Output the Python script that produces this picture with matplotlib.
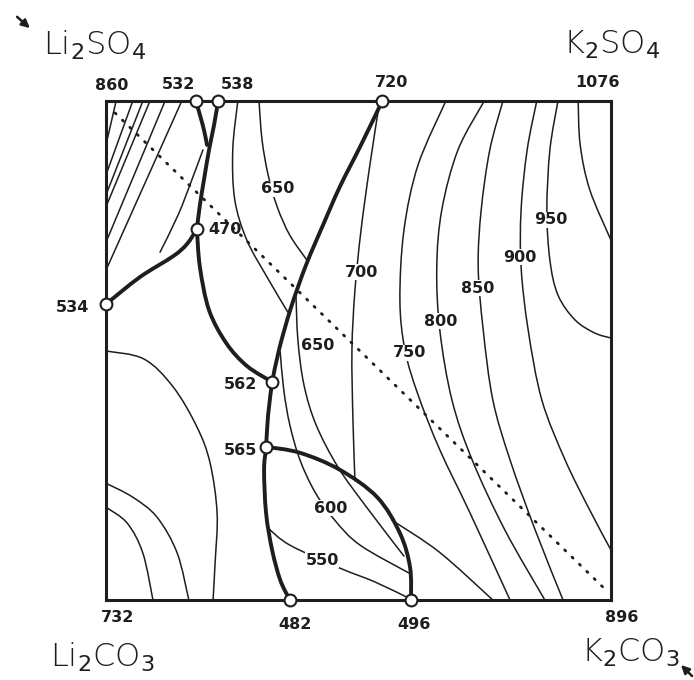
import numpy as np
import matplotlib
matplotlib.use("Agg")
import matplotlib.pyplot as plt
from matplotlib.path import Path
from matplotlib.patches import PathPatch

# Reciprocal system Li2SO4 - K2SO4 - Li2CO3 - K2CO3
# x = mol % K+, y = mol % SO4(2-)

# invariant / binary points
pt_x = [17.8, 22.2, 54.7, 18.0, 0.0, 32.9, 31.7, 36.4, 60.4]
pt_y = [100, 100, 100, 74.3, 59.3, 43.7, 30.7, 0, 0]

# boundary curves (thick)
b1_x = [17.8, 18.6, 19.4, 20.0]
b1_y = [100, 97.2, 94.2, 91.2]
b2_x = [22.2, 21.4, 20.4, 19.4, 18.6, 18.0]
b2_y = [100, 95.2, 90.2, 84.2, 79.2, 74.3]
b3_x = [0, 6.7, 13.3, 16.0, 18.0]
b3_y = [59.3, 64.7, 68.9, 71.3, 74.3]
b4_x = [18.0, 18.6, 20.4, 23.8, 27.9, 32.9]
b4_y = [74.3, 66.7, 58.1, 51.5, 46.9, 43.7]
b5_x = [54.7, 50.5, 46.3, 43.0, 39.6, 36.6, 34.3, 32.9]
b5_y = [100, 91.2, 82.8, 75.2, 67.1, 58.5, 50.3, 43.7]
b6_x = [32.9, 32.1, 31.7, 31.3, 31.7, 32.9, 34.5, 36.4]
b6_y = [43.7, 37.1, 30.7, 26.1, 17.4, 10.0, 4.0, 0]
b7_x = [31.7, 38.4, 46.3, 53.7, 58.2, 60.2, 60.4]
b7_y = [30.7, 29.5, 26.1, 20.6, 13.4, 6.6, 0]

# isotherms (thin)
t1_x = [10.7, 14.3, 17.0, 19.2]
t1_y = [69.7, 77.2, 84.2, 90.2]
ca_x = [26.1, 25.1, 25.5, 27.9, 31.9, 36.0]
ca_y = [100, 90.2, 80.2, 72.1, 64.7, 57.7]
c650a_x = [30.3, 30.9, 32.1, 33.9, 36.4, 39.8]
c650a_y = [100, 92.2, 85.2, 78.8, 73.1, 68.1]
c700_x = [54.2, 52.2, 50.5, 49.3, 48.7, 48.9, 49.3]
c700_y = [100, 86.8, 74.1, 62.1, 50.1, 36.1, 23.9]
c650b_x = [37.6, 38.0, 39.2, 41.6, 45.9, 51.3, 59.0]
c650b_y = [61.7, 52.1, 43.1, 35.1, 26.7, 19.0, 8.8]
c600_x = [34.5, 35.2, 36.4, 38.4, 41.4, 45.3, 50.3, 60.0]
c600_y = [49.7, 42.1, 35.1, 28.1, 21.6, 16.0, 11.0, 5.4]
c550_x = [32.1, 36.4, 46.3, 53.3, 60.3]
c550_y = [14.4, 11.0, 6.4, 3.6, 0.2]
ck_x = [56.6, 66.0, 76.6]
ck_y = [16.0, 9.6, 0]
c750_x = [67.3, 61.8, 59.0, 58.2, 59.2, 61.8, 66.1, 72.1, 80.0]
c750_y = [100, 87.2, 74.1, 60.1, 50.1, 41.1, 30.1, 17.4, 0]
c800_x = [74.9, 69.7, 66.5, 65.5, 66.1, 68.5, 72.5, 79.0, 86.9]
c800_y = [100, 90.2, 78.2, 66.7, 54.1, 40.1, 28.1, 14.0, 0]
c850_x = [78.6, 76.0, 74.3, 73.7, 74.7, 76.6, 80.0, 85.0, 90.5]
c850_y = [100, 90.2, 78.2, 66.7, 54.1, 40.1, 28.1, 14.0, 0]
c900_x = [85.3, 83.4, 82.2, 82.2, 83.6, 86.3, 90.9, 95.8, 100]
c900_y = [100, 90.2, 78.2, 66.7, 54.1, 40.1, 28.1, 18.0, 10.0]
c950_x = [89.5, 87.9, 87.3, 87.9, 89.5, 92.9, 96.8, 100]
c950_y = [100, 90.2, 78.2, 68.1, 61.1, 56.1, 53.5, 52.5]
c1000_x = [93.5, 93.9, 95.8, 100]
c1000_y = [100, 91.2, 82.2, 72.1]
ll1_x = [0, 7.5, 13.3, 18.0, 20.6, 22.0, 21.6, 21.2]
ll1_y = [49.9, 48.3, 42.7, 34.7, 27.5, 17.4, 7.4, 0]
ll2_x = [0, 5.3, 10.1, 14.1, 16.4]
ll2_y = [23.4, 20.6, 16.6, 9.4, 0]
ll3_x = [0, 4.2, 7.3, 9.3]
ll3_y = [18.6, 15.4, 9.4, 0]

# hatching in Li2SO4 corner: top-edge x -> left-edge y
hatch_top = [2.0, 5.3, 7.3, 8.7, 11.7, 15.0]
hatch_left = [91.2, 85.2, 81.2, 78.8, 71.7, 66.1]

# diagonal Li2SO4 - K2CO3
diag_x = [1.8, 99.4]
diag_y = [97.6, 1.6]

# isotherm labels
iso_lab = ["650", "700", "650", "750", "800", "850", "900", "950", "600", "550"]
iso_x = [33.9, 50.7, 42.0, 60.2, 66.3, 73.7, 82.0, 88.1, 44.4, 42.8]
iso_y = [82.4, 65.7, 51.1, 49.5, 55.9, 62.5, 68.7, 76.2, 18.4, 8.0]

# temperature labels at points / corners
pt_lab = ["860", "532", "538", "720", "1076", "534", "470", "562", "565",
          "732", "482", "496", "896"]
pt_lx = [1.2, 14.3, 26.0, 56.6, 97.4, -6.7, 23.6, 26.7, 26.7, 2.2, 37.4, 61.0, 102.2]
pt_ly = [103.2, 103.4, 103.4, 103.8, 103.8, 58.7, 74.3, 43.1, 29.9, -3.6, -5.0, -5.0, -3.6]

salts = [r"Li$_2$SO$_4$", r"K$_2$SO$_4$", r"Li$_2$CO$_3$", r"K$_2$CO$_3$"]
salt_x = [-2.2, 100.2, -0.8, 103.8]
salt_y = [111.2, 111.2, -11.4, -10.6]

ink = "#1e1e1e"


def smooth_path(xs, ys):
    # Catmull-Rom through the read points, drawn as cubic Bezier segments
    p = np.column_stack([xs, ys]).astype(float)
    if len(p) == 2:
        return Path(p)
    verts = [p[0]]
    codes = [Path.MOVETO]
    for i in range(len(p) - 1):
        p0 = p[i - 1] if i > 0 else p[i]
        p1, p2 = p[i], p[i + 1]
        p3 = p[i + 2] if i + 2 < len(p) else p[i + 1]
        verts += [p1 + (p2 - p0) / 6, p2 - (p3 - p1) / 6, p2]
        codes += [Path.CURVE4] * 3
    return Path(verts, codes)


def curve(ax, xs, ys, lw, z=2):
    ax.add_patch(PathPatch(smooth_path(xs, ys), fill=False, ec=ink, lw=lw,
                           capstyle="round", joinstyle="round", zorder=z))


fig = plt.figure(figsize=(6.94, 6.80), dpi=100, facecolor="white")
ax = fig.add_axes([106 / 694, 80 / 680, 505 / 694, 499 / 680])
ax.set_xlim(0, 100)
ax.set_ylim(0, 100)
ax.set_xticks([])
ax.set_yticks([])
for s in ax.spines.values():
    s.set_linewidth(2.2)
    s.set_color(ink)

thin = [t1_x, t1_y, ca_x, ca_y, c650a_x, c650a_y, c700_x, c700_y,
        c650b_x, c650b_y, c600_x, c600_y, c550_x, c550_y, ck_x, ck_y,
        c750_x, c750_y, c800_x, c800_y, c850_x, c850_y, c900_x, c900_y,
        c950_x, c950_y, c1000_x, c1000_y, ll1_x, ll1_y, ll2_x, ll2_y,
        ll3_x, ll3_y]
for i in range(0, len(thin), 2):
    curve(ax, thin[i], thin[i + 1], 1.1)

for xt, yl in zip(hatch_top, hatch_left):
    ax.plot([xt, 0], [100, yl], color=ink, lw=1.1, zorder=2)

thick = [b1_x, b1_y, b2_x, b2_y, b3_x, b3_y, b4_x, b4_y, b5_x, b5_y,
         b6_x, b6_y, b7_x, b7_y]
for i in range(0, len(thick), 2):
    curve(ax, thick[i], thick[i + 1], 2.8, z=3)

ax.plot(diag_x, diag_y, color=ink, lw=2.0, linestyle=(0, (0.5, 3.2)),
        dash_capstyle="round", zorder=2)

ax.plot(pt_x, pt_y, "o", ms=8.5, mfc="white", mec=ink, mew=1.5,
        clip_on=False, zorder=5)

for t, x, y in zip(iso_lab, iso_x, iso_y):
    ax.text(x, y, t, fontsize=11.5, color=ink, ha="center", va="center",
            fontweight="bold", bbox=dict(fc="white", ec="none", pad=0.5),
            zorder=4)

for t, x, y in zip(pt_lab, pt_lx, pt_ly):
    ax.text(x, y, t, fontsize=11.5, color=ink, ha="center", va="center",
            fontweight="bold", clip_on=False, zorder=6)

for t, x, y in zip(salts, salt_x, salt_y):
    ax.text(x, y, t, fontsize=23, color=ink, ha="center", va="center",
            fontweight="light", clip_on=False)

# small arrows by the salt names
ax.annotate("", xy=(32, 650), xytext=(15, 665), xycoords="figure pixels",
            textcoords="figure pixels",
            arrowprops=dict(arrowstyle="-|>", color=ink, lw=1.8, mutation_scale=12))
ax.annotate("", xy=(679, 17), xytext=(694, 2), xycoords="figure pixels",
            textcoords="figure pixels",
            arrowprops=dict(arrowstyle="-|>", color=ink, lw=1.8, mutation_scale=12))

fig.savefig("out.png", dpi=100, facecolor="white")
